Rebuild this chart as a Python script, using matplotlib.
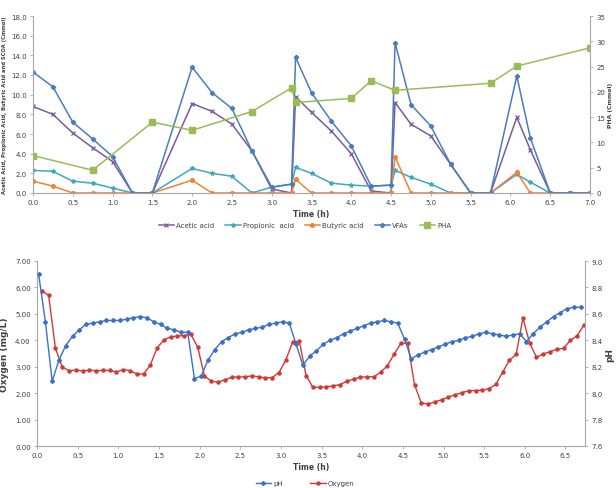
import matplotlib
matplotlib.use('Agg')
import matplotlib.pyplot as plt
import numpy as np
from matplotlib.ticker import FormatStrFormatter, MultipleLocator

# ---- top chart: acids (left axis) and PHA (right axis) ----
t_acid = [0.0, 0.25, 0.5, 0.75, 1.0, 1.25, 1.5, 2.0, 2.25, 2.5, 2.75, 3.0, 3.25, 3.3,
          3.5, 3.75, 4.0, 4.25, 4.5, 4.55, 4.75, 5.0, 5.25, 5.5, 5.75, 6.08, 6.25,
          6.5, 6.75, 7.0]
acetic = [8.8, 8.0, 6.1, 4.6, 3.2, 0, 0, 9.1, 8.3, 7.0, 4.3, 0.4, 0, 9.8,
          8.2, 6.3, 4.0, 0.2, 0, 9.2, 7.0, 5.8, 2.9, 0, 0, 7.7, 4.4, 0, 0, 0]
propionic = [2.3, 2.2, 1.2, 1.0, 0.5, 0, 0, 2.5, 2.0, 1.7, 0, 0.6, 0.9, 2.6,
             2.0, 1.0, 0.8, 0.7, 0.8, 2.3, 1.6, 0.9, 0, 0, 0, 1.9, 1.1, 0, 0, 0]
butyric = [1.2, 0.7, 0, 0, 0, 0, 0, 1.3, 0, 0, 0, 0, 0, 1.4,
           0, 0, 0, 0, 0, 3.7, 0, 0, 0, 0, 0, 2.1, 0, 0, 0, 0]
vfas = [12.3, 10.8, 7.2, 5.5, 3.7, 0, 0, 12.8, 10.2, 8.6, 4.3, 0.6, 0.9, 13.8,
        10.2, 7.3, 4.8, 0.7, 0.8, 15.3, 9.0, 6.8, 2.9, 0, 0, 11.9, 5.6, 0, 0, 0]

t_pha = [0.0, 0.75, 1.5, 2.0, 2.75, 3.25, 3.3, 4.0, 4.25, 4.55, 5.75, 6.08, 7.0]
pha = [7.4, 4.5, 14.0, 12.4, 16.1, 20.8, 17.9, 18.7, 22.2, 20.3, 21.7, 25.1, 28.7]

# ---- bottom chart: pH and oxygen, logged every 5 min ----
ph = [8.90, 8.54, 8.09, 8.25, 8.36, 8.43, 8.48, 8.52, 8.53, 8.54,
      8.55, 8.55, 8.55, 8.56, 8.57, 8.58, 8.57, 8.54, 8.52, 8.49,
      8.48, 8.46, 8.46, 8.11, 8.13, 8.25, 8.33, 8.39, 8.42, 8.45,
      8.46, 8.48, 8.49, 8.50, 8.52, 8.53, 8.54, 8.53, 8.37, 8.21,
      8.28, 8.32, 8.37, 8.40, 8.42, 8.45, 8.47, 8.49, 8.51, 8.53,
      8.54, 8.55, 8.54, 8.53, 8.41, 8.26, 8.29, 8.31, 8.33, 8.35,
      8.37, 8.39, 8.40, 8.42, 8.43, 8.45, 8.46, 8.45, 8.44, 8.43,
      8.44, 8.45, 8.39, 8.45, 8.50, 8.54, 8.58, 8.61, 8.64, 8.65, 8.65]
oxygen = [5.88, 5.70, 3.70, 2.99, 2.85, 2.87, 2.84, 2.87, 2.85, 2.86,
          2.86, 2.80, 2.89, 2.85, 2.73, 2.72, 3.06, 3.71, 4.01, 4.13,
          4.16, 4.18, 4.22, 3.74, 2.65, 2.45, 2.42, 2.50, 2.60, 2.61,
          2.62, 2.65, 2.62, 2.57, 2.59, 2.78, 3.25, 3.93, 3.96, 2.66,
          2.22, 2.22, 2.24, 2.28, 2.32, 2.45, 2.53, 2.60, 2.62, 2.62,
          2.79, 3.04, 3.48, 3.89, 3.89, 2.31, 1.63, 1.59, 1.67, 1.75,
          1.85, 1.94, 2.02, 2.09, 2.10, 2.11, 2.17, 2.33, 2.79, 3.24,
          3.47, 4.84, 3.89, 3.36, 3.48, 3.57, 3.66, 3.70, 4.00, 4.17, 4.58]
step_h = 5 / 60
t_ph = 0.02 + step_h * np.arange(len(ph))
t_ox = 0.06 + step_h * np.arange(len(oxygen))

axis_col = '#A6A6A6'
text_col = '#404040'


def excel_style(ax):
    ax.spines['top'].set_visible(False)
    for s in ['left', 'right', 'bottom']:
        ax.spines[s].set_color(axis_col)
        ax.spines[s].set_linewidth(0.8)
    ax.tick_params(colors=axis_col, labelcolor=text_col, labelsize=5,
                   length=2.5, width=0.6, direction='out', pad=2)


fig = plt.figure(figsize=(6.16, 4.89), dpi=100)

# ================= top =================
ax1 = fig.add_axes([33 / 616, 1 - 194 / 489, 557 / 616, 177 / 489])
ax1b = ax1.twinx()
excel_style(ax1)
excel_style(ax1b)
ax1.spines['right'].set_visible(False)
ax1b.spines['left'].set_visible(False)
ax1b.spines['bottom'].set_visible(False)

lw = 1.1
ax1.plot(t_acid, acetic, color='#7A5C9E', marker='x', ms=2.5, mew=0.9, lw=lw, label='Acetic acid')
ax1.plot(t_acid, propionic, color='#3FA8BE', marker='*', ms=3, lw=lw, label='Propionic  acid')
ax1.plot(t_acid, butyric, color='#F0813A', marker='o', ms=2.6, lw=lw, label='Butyric acid')
ax1.plot(t_acid, vfas, color='#4A7EBB', marker='D', ms=2.2, lw=lw, label='VFAs')
ax1b.plot(t_pha, pha, color='#9BBB59', marker='s', ms=4, lw=lw, label='PHA')

ax1.set_xlim(0, 7)
ax1.set_ylim(0, 18)
ax1b.set_ylim(0, 35)
ax1.xaxis.set_major_locator(MultipleLocator(0.5))
ax1.yaxis.set_major_locator(MultipleLocator(2))
ax1b.yaxis.set_major_locator(MultipleLocator(5))
ax1.xaxis.set_major_formatter(FormatStrFormatter('%.1f'))
ax1.yaxis.set_major_formatter(FormatStrFormatter('%.1f'))
ax1.set_xlabel('Time (h)', fontsize=5.5, fontweight='bold', color=text_col, labelpad=3)
ax1.set_ylabel('Acetic Acid, Propionic Acid, Butyric Acid and SCOA (Cmmol)',
               fontsize=3.8, fontweight='bold', color=text_col, labelpad=3)
ax1b.set_ylabel('PHA (Cmmol)', fontsize=4.4, fontweight='bold', color=text_col, labelpad=2)

h1, l1 = ax1.get_legend_handles_labels()
h2, l2 = ax1b.get_legend_handles_labels()
fig.legend(h1 + h2, l1 + l2, loc='center', bbox_to_anchor=(305 / 616, 1 - 226 / 489),
           ncol=5, frameon=False, fontsize=5, handlelength=2.2, columnspacing=1.6,
           handletextpad=0.3, labelcolor=text_col)

# ================= bottom =================
ax2 = fig.add_axes([37 / 616, 1 - 447 / 489, 548 / 616, 185 / 489])
ax2b = ax2.twinx()
excel_style(ax2)
excel_style(ax2b)
ax2.spines['right'].set_visible(False)
ax2b.spines['left'].set_visible(False)
ax2b.spines['bottom'].set_visible(False)

ax2b.plot(t_ph, ph, color='#3A70C6', marker='D', ms=2, lw=1.0, label='pH')
ax2.plot(t_ox, oxygen, color='#D03A34', marker='o', ms=2.2, lw=1.0, label='Oxygen')

ax2.set_xlim(0, 6.74)
ax2.set_ylim(0, 7)
ax2b.set_ylim(7.6, 9.0)
ax2.xaxis.set_major_locator(MultipleLocator(0.5))
ax2.yaxis.set_major_locator(MultipleLocator(1))
ax2b.yaxis.set_major_locator(MultipleLocator(0.2))
ax2.xaxis.set_major_formatter(FormatStrFormatter('%.1f'))
ax2.yaxis.set_major_formatter(FormatStrFormatter('%.2f'))
ax2b.yaxis.set_major_formatter(FormatStrFormatter('%.1f'))
ax2.set_xlabel('Time (h)', fontsize=5.5, fontweight='bold', color=text_col, labelpad=3)
ax2.set_ylabel('Oxygen (mg/L)', fontsize=6.5, fontweight='bold', color=text_col, labelpad=4)
ax2b.set_ylabel('pH', fontsize=6.5, fontweight='bold', color=text_col, labelpad=2)

h3, l3 = ax2b.get_legend_handles_labels()
h4, l4 = ax2.get_legend_handles_labels()
fig.legend(h3 + h4, l3 + l4, loc='center', bbox_to_anchor=(305 / 616, 1 - 484 / 489),
           ncol=2, frameon=False, fontsize=5, handlelength=2.2, columnspacing=4,
           handletextpad=0.3, labelcolor=text_col)

fig.savefig('out.png', dpi=100, facecolor='white')
